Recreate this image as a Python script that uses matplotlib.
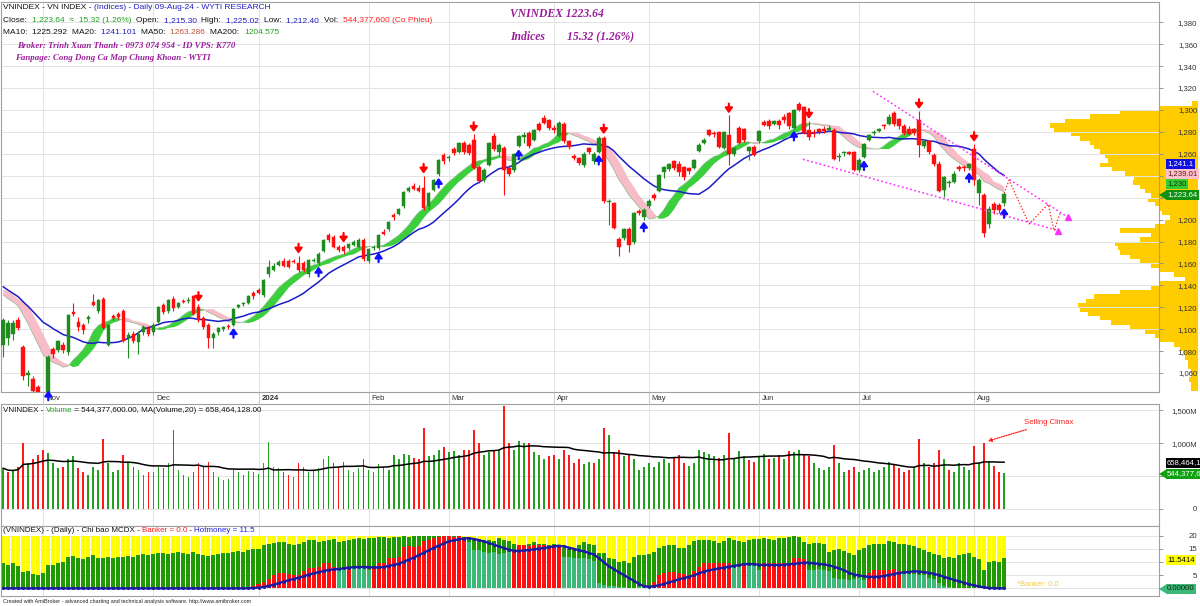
import numpy as np
import pandas as pd
import matplotlib
matplotlib.use("Agg")
import matplotlib.pyplot as plt
from matplotlib.patches import Polygon
from matplotlib.transforms import blended_transform_factory

plt.rcParams['font.family'] = ['Liberation Sans', 'DejaVu Sans']

W, H = 1200, 606

# ---------------- data ----------------
# trading days 20-Oct-2023 .. 09-Aug-2024, index 0..200
month_starts = [8, 30, 51, 73, 89, 110, 129, 151, 171, 194]
month_labels = ['Nov', 'Dec', '2024', 'Feb', 'Mar', 'Apr', 'May', 'Jun', 'Jul', 'Aug']

opens = [1086, 1092, 1096, 1108, 1084, 1058, 1055, 1047, 1041, 1031,
         1082, 1081, 1086, 1079, 1116, 1107, 1104, 1109, 1125, 1117,
         1128, 1086, 1112, 1114, 1117, 1092, 1096, 1088, 1097, 1101,
         1097, 1107, 1122, 1117, 1128, 1120, 1126, 1126, 1130, 1120,
         1110, 1104, 1092, 1097, 1100, 1103, 1104, 1120, 1123, 1124,
         1133, 1136, 1131, 1150, 1154, 1159, 1162, 1162, 1162, 1160,
         1160, 1150, 1162, 1160, 1171, 1186, 1184, 1175, 1175, 1174,
         1177, 1175, 1181, 1162, 1174, 1174, 1189, 1191, 1204, 1205,
         1212, 1226, 1231, 1229, 1229, 1212, 1227, 1242, 1259, 1256,
         1264, 1262, 1270, 1268, 1273, 1248, 1236, 1250, 1276, 1262,
         1265, 1247, 1245, 1267, 1275, 1279, 1273, 1287, 1293, 1291,
         1284, 1276, 1287, 1272, 1258, 1256, 1250, 1265, 1253, 1262,
         1274, 1216, 1215, 1182, 1183, 1191, 1180, 1208, 1202, 1212,
         1222, 1226, 1243, 1246, 1253, 1251, 1248, 1247, 1247, 1263,
         1270, 1282, 1279, 1280, 1265, 1277, 1260, 1284, 1283, 1263,
         1266, 1272, 1289, 1290, 1287, 1290, 1294, 1297, 1284, 1305,
         1303, 1282, 1280, 1283, 1283, 1282, 1282, 1257, 1261, 1262,
         1262, 1245, 1257, 1273, 1279, 1281, 1286, 1287, 1297, 1292,
         1285, 1283, 1283, 1291, 1267, 1272, 1259, 1251, 1227, 1233,
         1234, 1248, 1248, 1247, 1264, 1224, 1222, 1196, 1214, 1213,
         1215.30]
highs = [1110, 1108, 1108, 1111, 1086, 1063, 1057, 1049, 1043, 1076,
         1084, 1090, 1088, 1114, 1124, 1111, 1106, 1113, 1132, 1128,
         1129, 1105, 1114, 1116, 1118, 1097, 1098, 1098, 1104, 1103,
         1106, 1121, 1124, 1128, 1130, 1125, 1128, 1129, 1131, 1123,
         1112, 1106, 1097, 1102, 1103, 1105, 1119, 1123, 1125, 1131,
         1135, 1138, 1146, 1163, 1160, 1163, 1165, 1164, 1164, 1167,
         1162, 1164, 1165, 1170, 1182, 1188, 1186, 1177, 1177, 1179,
         1181, 1183, 1183, 1174, 1177, 1187, 1191, 1199, 1206, 1211,
         1226, 1231, 1233, 1232, 1240, 1225, 1237, 1255, 1261, 1259,
         1266, 1271, 1272, 1270, 1278, 1250, 1247, 1271, 1279, 1270,
         1267, 1250, 1261, 1277, 1280, 1281, 1283, 1289, 1295, 1292,
         1286, 1290, 1289, 1273, 1260, 1257, 1262, 1266, 1262, 1276,
         1276, 1219, 1216, 1184, 1192, 1193, 1207, 1210, 1211, 1219,
         1224, 1242, 1249, 1252, 1254, 1253, 1249, 1248, 1255, 1270,
         1274, 1283, 1281, 1281, 1281, 1295, 1266, 1285, 1284, 1267,
         1268, 1282, 1291, 1292, 1291, 1292, 1296, 1298, 1301, 1307,
         1304, 1290, 1283, 1284, 1285, 1286, 1284, 1261, 1263, 1263,
         1263, 1256, 1270, 1278, 1282, 1284, 1287, 1296, 1299, 1293,
         1287, 1285, 1284, 1299, 1273, 1273, 1261, 1253, 1240, 1236,
         1244, 1250, 1250, 1252, 1269, 1238, 1224, 1212, 1216, 1215,
         1225.02]
lows = [1075, 1086, 1090, 1099, 1054, 1048, 1040, 1038, 1027, 1029,
        1074, 1079, 1078, 1076, 1112, 1098, 1096, 1106, 1121, 1115,
        1100, 1085, 1108, 1109, 1088, 1074, 1087, 1077, 1095, 1094,
        1095, 1106, 1114, 1115, 1117, 1119, 1124, 1124, 1113, 1107,
        1100, 1083, 1083, 1095, 1098, 1100, 1103, 1119, 1121, 1123,
        1128, 1132, 1129, 1148, 1153, 1158, 1157, 1156, 1160, 1152,
        1152, 1148, 1161, 1159, 1170, 1180, 1174, 1170, 1169, 1172,
        1176, 1174, 1162, 1160, 1172, 1172, 1186, 1190, 1200, 1204,
        1211, 1225, 1227, 1225, 1209, 1210, 1226, 1240, 1251, 1253,
        1259, 1261, 1260, 1259, 1246, 1233, 1234, 1249, 1263, 1258,
        1222, 1240, 1243, 1266, 1270, 1265, 1272, 1281, 1287, 1282,
        1279, 1275, 1270, 1264, 1254, 1250, 1248, 1260, 1251, 1261,
        1215, 1195, 1191, 1167, 1181, 1170, 1178, 1204, 1200, 1211,
        1218, 1225, 1238, 1244, 1245, 1240, 1236, 1242, 1246, 1262,
        1269, 1276, 1275, 1265, 1264, 1250, 1258, 1269, 1271, 1254,
        1258, 1270, 1285, 1283, 1286, 1283, 1288, 1283, 1283, 1299,
        1278, 1273, 1275, 1278, 1279, 1280, 1254, 1253, 1258, 1259,
        1244, 1243, 1256, 1272, 1277, 1280, 1283, 1286, 1285, 1283,
        1277, 1277, 1277, 1257, 1265, 1260, 1249, 1225, 1221, 1230,
        1233, 1244, 1244, 1245, 1232, 1213, 1184, 1192, 1205, 1206,
        1212.40]
closes = [1108, 1106, 1106, 1101, 1057, 1060, 1044, 1041, 1028, 1075,
          1077, 1089, 1081, 1113, 1114, 1102, 1099, 1111, 1122, 1127,
          1101, 1104, 1110, 1111, 1089, 1095, 1089, 1096, 1102, 1096,
          1104, 1120, 1116, 1127, 1119, 1124, 1125, 1127, 1114, 1108,
          1102, 1092, 1096, 1101, 1102, 1102, 1118, 1122, 1124, 1130,
          1130, 1133, 1145, 1157, 1158, 1161, 1158, 1157, 1161, 1154,
          1154, 1163, 1163, 1169, 1181, 1181, 1175, 1172, 1171, 1178,
          1180, 1181, 1164, 1173, 1175, 1186, 1187, 1198, 1202, 1210,
          1225, 1229, 1228, 1226, 1211, 1224, 1236, 1254, 1253, 1257,
          1261, 1270, 1262, 1261, 1247, 1235, 1245, 1270, 1264, 1268,
          1245, 1242, 1260, 1276, 1277, 1267, 1282, 1282, 1288, 1284,
          1282, 1288, 1272, 1266, 1256, 1252, 1260, 1262, 1260, 1274,
          1217, 1217, 1192, 1175, 1191, 1177, 1206, 1206, 1209, 1217,
          1220, 1241, 1248, 1251, 1247, 1243, 1239, 1244, 1254, 1268,
          1273, 1277, 1278, 1266, 1280, 1260, 1265, 1270, 1273, 1266,
          1259, 1281, 1286, 1285, 1290, 1286, 1291, 1285, 1300, 1300,
          1279, 1275, 1279, 1280, 1281, 1284, 1255, 1258, 1262, 1260,
          1245, 1254, 1269, 1277, 1280, 1283, 1285, 1294, 1287, 1285,
          1279, 1278, 1279, 1268, 1272, 1262, 1251, 1226, 1239, 1234,
          1242, 1246, 1247, 1251, 1236, 1236, 1188, 1210, 1209, 1208.32,
          1223.64]
# closes of the 19 sessions before the first visible bar (only feed the MAs)
closes_before = [1170, 1165, 1160, 1150, 1145, 1140, 1138, 1125, 1128, 1140,
                 1142, 1135, 1138, 1140, 1142, 1140, 1132, 1125, 1110]

# volume, millions of shares
volumes = [620, 560, 580, 640, 1000, 700, 760, 820, 900, 850,
           700, 620, 640, 760, 800, 620, 560, 520, 640, 600,
           1060, 700, 560, 600, 820, 720, 640, 600, 520, 560,
           560, 640, 620, 700, 1200, 600, 520, 480, 560, 700,
           640, 720, 560, 480, 440, 460, 600, 560, 520, 580,
           560, 540, 700, 1020, 640, 620, 560, 520, 480, 700,
           640, 560, 600, 620, 760, 800, 700, 640, 720, 600,
           560, 620, 760, 600, 560, 680, 640, 600, 820, 760,
           840, 820, 780, 760, 1230, 800, 820, 900, 940, 860,
           880, 820, 900, 900, 1200, 1000, 820, 860, 880, 900,
           1570, 1000, 900, 1030, 1000, 1000, 860, 820, 760, 800,
           820, 760, 900, 820, 700, 760, 680, 720, 700, 760,
           1230, 1120, 860, 900, 800, 820, 760, 600, 640, 700,
           640, 720, 760, 700, 780, 820, 700, 660, 700, 900,
           860, 840, 800, 780, 820, 1150, 760, 880, 800, 740,
           720, 800, 840, 760, 780, 820, 760, 880, 860, 900,
           840, 800, 700, 620, 600, 640, 970, 700, 560, 600,
           640, 560, 600, 620, 560, 600, 640, 720, 680, 620,
           560, 600, 640, 1060, 700, 640, 700, 900, 760, 600,
           560, 700, 640, 600, 960, 700, 1000, 720, 660, 560,
           544.3776]

# MCDX indicator
hotmoney = [9.5, 9.0, 9.5, 8.5, 6.3, 6.5, 5.5, 5.0, 6.0, 9.0,
            9.0, 9.5, 10.0, 12.0, 12.2, 11.5, 11.3, 11.8, 12.5, 11.5,
            11.5, 12.0, 11.5, 11.8, 12.0, 12.3, 12.0, 12.5, 13.0, 12.8,
            13.0, 13.3, 13.5, 13.2, 13.4, 13.7, 13.5, 13.2, 13.7, 13.2,
            12.6, 12.4, 12.5, 13.0, 13.5, 13.6, 14.0, 14.2, 14.0, 14.5,
            14.8, 15.0, 16.5, 17.0, 17.3, 17.5, 17.5, 17.0, 16.5, 17.0,
            17.5, 18.2, 18.5, 17.8, 18.0, 18.5, 18.8, 17.5, 18.0, 18.3,
            18.6, 19.0, 18.8, 19.0, 19.2, 19.5, 19.5, 19.3, 19.5, 19.7,
            19.8, 19.5, 19.8, 19.8, 20.0, 20.0, 20.0, 20.0, 20.0, 20.0,
            20.0, 19.8, 19.5, 19.0, 18.5, 18.0, 17.5, 18.5, 18.0, 19.0,
            18.5, 18.0, 17.0, 16.5, 16.5, 17.0, 17.5, 17.0, 17.0, 16.5,
            17.0, 16.0, 15.5, 15.0, 14.5, 16.5, 17.5, 17.0, 16.5, 13.3,
            13.5, 11.5, 11.0, 10.0, 10.5, 9.8, 12.0, 12.5, 12.7, 13.0,
            14.0, 15.5, 16.0, 16.5, 16.3, 15.5, 15.5, 16.5, 18.0, 18.5,
            18.5, 18.4, 18.0, 17.2, 18.0, 19.0, 18.5, 18.0, 17.5, 18.5,
            18.8, 18.7, 19.0, 18.8, 18.5, 19.3, 19.0, 19.5, 20.0, 19.5,
            17.5, 17.0, 17.2, 17.2, 17.0, 14.0, 14.5, 15.0, 14.3, 13.5,
            12.8, 14.5, 15.5, 16.6, 16.8, 17.0, 17.0, 18.0, 17.5, 17.0,
            17.0, 16.6, 16.0, 15.5, 14.5, 14.0, 13.0, 12.5, 11.5, 12.0,
            11.5, 12.5, 13.0, 13.5, 12.0, 11.0, 7.0, 10.0, 10.3, 10.0,
            11.54]
banker = [0, 0, 0, 0, 0, 0, 0, 0, 0, 0,
          0, 0, 0, 0, 0, 0, 0, 0, 0, 0,
          0, 0, 0, 0, 0, 0, 0, 0, 0, 0,
          0, 0, 0, 0, 0, 0, 0, 0, 0, 0,
          0, 0, 0, 0, 0, 0, 0, 0, 0, 0.5,
          1.0, 1.5, 2.5, 3.5, 5.0, 5.7, 5.7, 5.5, 5.0, 5.0,
          6.5, 7.6, 7.6, 8.0, 9.5, 9.5, 8.0, 7.0, 7.5, 8.0,
          8.0, 8.0, 8.0, 7.0, 8.5, 9.5, 9.5, 11.4, 11.4, 12.0,
          15.8, 16.0, 15.8, 16.0, 18.0, 18.5, 19.0, 19.5, 20.0, 20.0,
          19.5, 20.0, 19.0, 17.5, 14.6, 14.5, 14.0, 13.5, 14.0, 13.0,
          13.5, 14.0, 14.5, 16.5, 16.5, 16.0, 16.5, 16.5, 16.5, 16.0,
          16.5, 16.5, 12.0, 12.0, 11.5, 11.5, 11.4, 11.0, 10.5, 2.0,
          1.3, 1.0, 1.0, 0.5, 0.5, 0.3, 0.3, 0.5, 0.5, 0.8,
          2.5, 5.0, 6.0, 6.3, 6.3, 6.0, 5.5, 5.0, 6.5, 8.0,
          9.5, 9.5, 9.7, 9.7, 9.7, 9.7, 8.2, 8.2, 9.5, 9.0,
          9.0, 7.0, 9.5, 9.5, 9.5, 9.5, 9.5, 9.5, 11.4, 11.4,
          11.0, 7.0, 7.0, 7.5, 7.0, 6.5, 4.0, 3.5, 3.5, 3.0,
          3.5, 4.0, 3.0, 6.0, 7.0, 7.0, 7.0, 7.0, 7.5, 6.5,
          6.0, 5.5, 5.5, 5.0, 5.0, 4.0, 3.5, 2.0, 1.0, 0.5,
          0.3, 0, 0, 0, 0, 0, 0, 0, 0, 0,
          0]

buy_signals = [9, 46, 63, 75, 87, 103, 119, 128, 158, 172, 193, 200]
sell_signals = [39, 59, 68, 84, 94, 120, 145, 161, 183, 194]

# volume-at-price profile: bin centre and relative volume
profile_price = [1306, 1302, 1298, 1294, 1290, 1286, 1282, 1278, 1274, 1270,
                 1266, 1262, 1258, 1254, 1250, 1246, 1242, 1238, 1234, 1230,
                 1226, 1222, 1218, 1214, 1210, 1206, 1202, 1198, 1194, 1190,
                 1186, 1182, 1178, 1174, 1170, 1166, 1162, 1158, 1154, 1150,
                 1146, 1142, 1138, 1134, 1130, 1126, 1122, 1118, 1114, 1110,
                 1106, 1102, 1098, 1094, 1090, 1086, 1082, 1078, 1074, 1070,
                 1066, 1062, 1058, 1054, 1050, 1046]
profile_vol = [0.04, 0.26, 0.53, 0.73, 0.90, 1.00, 0.97, 0.86, 0.80, 0.73,
               0.70, 0.66, 0.63, 0.61, 0.66, 0.58, 0.49, 0.43, 0.44, 0.39,
               0.36, 0.32, 0.34, 0.29, 0.26, 0.24, 0.19, 0.22, 0.29, 0.53,
               0.32, 0.39, 0.56, 0.54, 0.53, 0.46, 0.39, 0.32, 0.26, 0.16,
               0.09, 0.26, 0.32, 0.53, 0.70, 0.76, 0.81, 0.80, 0.74, 0.66,
               0.59, 0.46, 0.36, 0.29, 0.26, 0.16, 0.12, 0.10, 0.09, 0.07,
               0.07, 0.05, 0.05, 0.06, 0.05, 0.05]

# hand-drawn wedge and projected path (bar index, price)
wedge_upper = [(173.8, 1317), (212.8, 1202)]
wedge_lower = [(159.8, 1255), (210.8, 1190)]
projection = [(200, 1224), (201, 1236), (205, 1196), (208.8, 1214), (210, 1190), (211.2, 1206)]

# ---------------- colours ----------------
UP = '#1e8c1e'
DN = '#ff1010'
RIB_UP = '#3ccf3c'
RIB_DN = '#f7bcc8'
MA_BLUE = '#1c1cc8'
GRID = '#e3e3e3'
SPINE = '#a0a0a0'
PURPLE = '#9a1d9a'
YELLOW = '#ffcc00'

n = len(closes)
x = np.arange(n)
o = np.array(opens, float)
h = np.array(highs, float)
l = np.array(lows, float)
c = np.array(closes, float)

c_all = pd.Series(closes_before + closes, dtype=float)
k = len(closes_before)
ma20 = c_all.rolling(20).mean().to_numpy()[k:]
ma10 = c_all.rolling(10).mean()
rib_a = ma10.to_numpy()[k:]
rib_b = ma10.shift(2).to_numpy()[k:]

vol = pd.Series(volumes, dtype=float)
vol_ma = vol.rolling(20, min_periods=1).mean()

bank = pd.Series(banker, dtype=float)
bank_ma = bank.rolling(10, min_periods=1).mean()

fig = plt.figure(figsize=(W / 100, H / 100), dpi=100)
fig.patch.set_facecolor('white')


def box(x0, y0, x1, y1):
    return [x0 / W, 1 - y1 / H, (x1 - x0) / W, (y1 - y0) / H]


axp = fig.add_axes(box(1050, 2, 1198, 392))
ax = fig.add_axes(box(1, 2, 1159, 392))
axv = fig.add_axes(box(1, 404, 1159, 526))
axm = fig.add_axes(box(1, 526, 1159, 596))

XL = (-0.46, 230.96)
for a in (ax, axv, axm):
    a.set_xlim(*XL)
    a.set_xticks([])
    for s in a.spines.values():
        s.set_color(SPINE)
        s.set_linewidth(0.8)
    a.yaxis.tick_right()
    a.tick_params(axis='y', length=3, width=0.6, color='#888888', labelsize=5.6,
                  labelcolor='#333333', pad=24.5)
    for m in month_starts:
        a.axvline(m, color=GRID, lw=0.7, zorder=0)

# ---------- volume profile ----------
axp.set_zorder(0)
ax.set_zorder(1)
ax.patch.set_visible(False)
axp.barh(profile_price, profile_vol, height=4.0, left=0, color=YELLOW, lw=0)
axp.set_xlim(1.0, 0)
axp.set_ylim(1042.7, 1398.5)
axp.axis('off')

# ---------- price panel ----------
ax.set_ylim(1042.7, 1398.5)
pt = np.arange(1060, 1381, 20)
ax.set_yticks(pt)
# 1,220 and 1,240 sit under the value tags
ax.set_yticklabels(['' if v in (1220, 1240) else f'{v:,.0f}' for v in pt])
for v in pt:
    ax.axhline(v, color=GRID, lw=0.7, zorder=0)

ax.fill_between(x, rib_a, rib_b, where=rib_a >= rib_b, interpolate=True,
                color=RIB_UP, lw=0, zorder=1)
ax.fill_between(x, rib_a, rib_b, where=rib_a < rib_b, interpolate=True,
                color=RIB_DN, lw=0, zorder=1)
ax.plot(x, rib_a, color='#8fb88f', lw=0.5, zorder=1.1)
ax.plot(x, ma20, color=MA_BLUE, lw=1.1, zorder=2)

col = np.where(c >= o, UP, DN)
ax.vlines(x, l, h, colors=col, lw=0.8, zorder=3)
ax.bar(x, np.maximum(np.abs(c - o), 0.7), bottom=np.minimum(o, c), width=0.74,
       color=col, edgecolor=col, lw=0.3, zorder=4)

arrow_style = dict(arrowstyle='-|>,head_width=0.22,head_length=0.3', lw=1.6,
                   shrinkA=0, shrinkB=1.5)
for i in buy_signals:
    ax.annotate('', xy=(i, max(l[i], 1046)), xytext=(0, -8.5), textcoords='offset points',
                arrowprops=dict(color='#1010ff', **arrow_style),
                annotation_clip=False, zorder=5)
for i in sell_signals:
    ax.annotate('', xy=(i, h[i]), xytext=(0, 8.5), textcoords='offset points',
                arrowprops=dict(color='#ff0000', **arrow_style),
                annotation_clip=False, zorder=5)

for seg in (wedge_upper, wedge_lower):
    xs, ys = zip(*seg)
    ax.plot(xs, ys, color='#ff33ff', lw=1.1, ls=(0, (1.2, 1.6)), zorder=6)
px_, py_ = zip(*projection)
ax.plot(px_, py_, color='#ff3333', lw=0.9, ls=(0, (1.2, 1.4)), zorder=6)
ax.plot([wedge_lower[1][0], wedge_upper[1][0]], [wedge_lower[1][1], wedge_upper[1][1]],
        ls='none', marker='^', ms=5, color='#ff33ff', zorder=7)

# date strip below the price panel
trans = blended_transform_factory(ax.transData, ax.transAxes)
for m, lab in zip(month_starts, month_labels):
    ax.plot([m, m], [0, -12 / 390], transform=trans, color='#c8c8c8', lw=0.7, clip_on=False)
    ax.text(m + 0.6, -6 / 390, lab, transform=trans, fontsize=5.6, va='center', ha='left',
            color='#333333', fontweight='bold' if lab == '2024' else 'normal')

# ---------- volume panel ----------
axv.set_ylim(-259, 1598)
vt = [0, 500, 1000, 1500]
axv.set_yticks(vt)
axv.set_yticklabels(['0', '', '1,000M', '1,500M'])
for v in vt:
    axv.axhline(v, color=GRID, lw=0.7, zorder=0)
prev = np.concatenate([[c[0]], c[:-1]])
vcol = np.where(c >= prev, '#22a022', '#ff1a1a')
axv.bar(x, vol, width=0.36, color=vcol, lw=0, zorder=2)
axv.plot(x, vol_ma, color='black', lw=1.1, zorder=3)
axv.annotate('Selling Climax', xy=(196.8, 1035), xytext=(204, 1310), fontsize=5.6,
             color='#ff2020', va='center', ha='left',
             arrowprops=dict(arrowstyle='-|>,head_width=0.2,head_length=0.35',
                             color='#ff2020', lw=0.9, ls=(0, (1, 1)), shrinkA=1, shrinkB=0))

# ---------- MCDX panel ----------
axm.set_ylim(-2.9, 23.7)
mt = [0, 5, 10, 15, 20]
axm.set_yticks(mt)
axm.set_yticklabels(['', '5', '', '15', '20'])
for v in mt:
    axm.axhline(v, color=GRID, lw=0.7, zorder=0)
axm.bar(x, np.full(n, 20.0), width=0.8, color='#ffff00', lw=0, zorder=1)
axm.bar(x, hotmoney, width=0.8, color='#1f9a00', lw=0, zorder=2)
bcol = np.where(bank >= bank_ma, '#ff1010', '#3cb878')
axm.bar(x, bank, width=0.8, color=bcol, lw=0, zorder=3)
axm.plot(x, bank_ma, color='#1c1ca0', lw=1.7, zorder=4, marker='o', ms=1.2)
axm.text(202.5, 1.3, '*Banker: 0.0', fontsize=5.4, color='#f2c84b', va='center', ha='left')

for a in (ax, axv, axm):
    plt.setp(a.get_yticklabels(), ha='right')

# ---------------- texts ----------------
renderer = fig.canvas.get_renderer()


def parts_text(x0, y0, parts, size, **kw):
    xx = x0
    for s, colr in parts:
        t = fig.text(xx / W, 1 - y0 / H, s, color=colr, fontsize=size, va='center',
                     ha='left', zorder=10, **kw)
        xx = t.get_window_extent(renderer).x1


BLK = '#111111'
BLU = '#2020c0'
parts_text(3, 7.5, [('VNINDEX - VN INDEX - ', BLK),
                    ('(Indices) - Daily 09-Aug-24 - WYTI RESEARCH', BLU)], 6.0)
parts_text(3, 20.5, [('Close:  ', BLK), ('1,223.64  \u2248  15.32 (1.26%)  ', '#22a022'),
                     ('Open:  ', BLK), ('1,215.30  ', BLU), ('High:  ', BLK), ('1,225.02  ', BLU),
                     ('Low:  ', BLK), ('1,212.40  ', BLU), ('Vol:  ', BLK),
                     ('544,377,600 (Co Phieu)', '#ff2020')], 6.0)
parts_text(3, 33, [('MA10:  ', BLK), ('1225.292  ', BLK), ('MA20:  ', BLK), ('1241.101  ', BLU),
                   ('MA50:  ', BLK), ('1263.286  ', '#c0503a'), ('MA200:  ', BLK),
                   ('1204.575', '#22a022')], 6.0)
parts_text(3, 410, [('VNINDEX - ', BLK), ('Volume', '#22a022'),
                    (' = 544,377,600.00, MA(Volume,20) = 658,464,128.00', BLK)], 5.8)
parts_text(3, 531, [('(VNINDEX) - (Daily) - Chi bao MCDX - ', BLK), ('Banker = 0.0', '#ff2020'),
                    (' - ', BLK), ('Hotmoney = 11.5', '#2020e0')], 5.8)
fig.text(3 / W, 1 - 601 / H,
         'Created with AmiBroker - advanced charting and technical analysis software. http://www.amibroker.com',
         fontsize=3.9, color='#222222', va='center', ha='left')

serif = dict(family=['Liberation Serif', 'DejaVu Serif'], style='italic', weight='bold', color=PURPLE)
fig.text(17 / W, 1 - 46 / H, 'Broker: Trinh Xuan Thanh - 0973 074 954 - ID VPS: K770', fontsize=6.4,
         va='center', ha='left', **serif)
fig.text(15 / W, 1 - 58 / H, 'Fanpage: Cong Dong Ca Map Chung Khoan - WYTI', fontsize=6.4,
         va='center', ha='left', **serif)
fig.text(510 / W, 1 - 14 / H, 'VNINDEX 1223.64', fontsize=8.4, va='center', ha='left', **serif)
fig.text(510 / W, 1 - 37 / H, 'Indices', fontsize=8.4, va='center', ha='left', **serif)
fig.text(567 / W, 1 - 37 / H, '15.32 (1.26%)', fontsize=8.4, va='center', ha='left', **serif)


# right-hand value tags (the chart cuts the long ones at the edge)
def tag(yc, s, fc, tc, arrow=False):
    yf = 1 - yc / H
    fig.text(1167 / W, yf, s, fontsize=5.6, color=tc, va='center', ha='left', zorder=11,
             bbox=dict(boxstyle='square,pad=0.18', fc=fc, ec='none'))
    if arrow:
        tri = Polygon([(1159 / W, yf), (1167 / W, yf + 5 / H), (1167 / W, yf - 5 / H)],
                      closed=True, transform=fig.transFigure, fc=fc, ec='none', zorder=11)
        fig.patches.append(tri)


tag(164, '1,241.1', '#1010e0', 'white')
tag(174, '1,239.01', '#ffc0cb', '#5a1a1a')
tag(184, '1,230', '#33cc33', '#0a3a0a')
tag(195, '1,223.64', '#109010', 'white', arrow=True)
tag(463, '658,464,1', 'black', 'white')
tag(474, '544,377,6', '#10a010', 'white', arrow=True)
tag(560, '11.5414', '#ffff00', 'black')
tag(589, '0.00000', '#3cb878', '#0a2a0a', arrow=True)

fig.savefig('out.png', dpi=100)
